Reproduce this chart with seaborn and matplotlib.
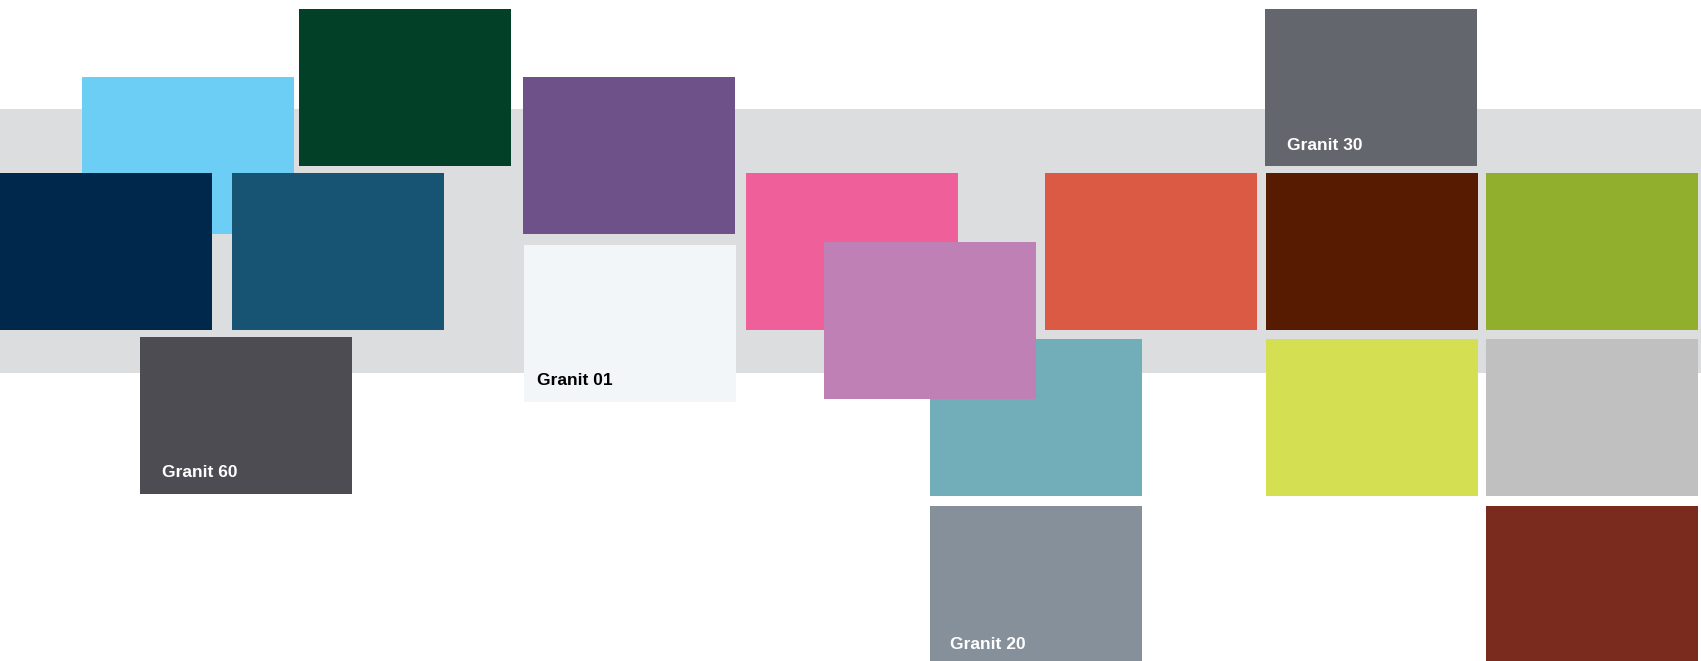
import matplotlib
matplotlib.use("Agg")
import matplotlib.pyplot as plt
import seaborn as sns

# swatch names, colours and where each card sits (pixel grid of the sheet)
swatch_names = [
    "Light blue", "Dark green", "Navy", "Petrol", "Granit 60",
    "Violet", "Granit 01", "Pink", "Turquoise", "Mauve",
    "Coral", "Granit 20", "Granit 30", "Brown", "Green",
    "Lime", "Light grey", "Rust",
]
swatch_colors = [
    "#6ccef5", "#024128", "#00274c", "#175474", "#4d4c53",
    "#6f518a", "#f2f6f9", "#ef5f99", "#72aeba", "#be80b5",
    "#db5a44", "#86909b", "#63666c", "#561b00", "#91ae2c",
    "#d4df51", "#bfc0bf", "#7a2b1d",
]
swatch_left = [82, 299, 0, 232, 140, 523, 524, 746, 930, 824,
               1045, 930, 1265, 1266, 1486, 1266, 1486, 1486]
swatch_top = [77, 9, 173, 173, 337, 77, 245, 173, 339, 242,
              173, 506, 9, 173, 173, 339, 339, 506]

# labels printed on the granite cards
label_text = ["Granit 60", "Granit 01", "Granit 30", "Granit 20"]
label_x = [162, 537, 1287, 950]
label_y = [477, 385, 150, 649]
label_color = ["white", "black", "white", "white"]

band_top, band_bottom = 109, 373
card_w, card_h = 212, 157

sns.set_theme(style="white")
plt.rcParams["font.family"] = ["Liberation Sans", "DejaVu Sans"]

fig = plt.figure(figsize=(17.01, 6.61), dpi=100)
ax = fig.add_axes([0, 0, 1, 1])
ax.set_xlim(0, 1701)
ax.set_ylim(661, 0)
ax.axis("off")

# grey band behind the cards
ax.bar(0, band_bottom - band_top, width=1701, bottom=band_top,
       align="edge", color="#dcdddf", linewidth=0)

ax.bar(swatch_left, card_h, width=card_w, bottom=swatch_top,
       align="edge", color=swatch_colors, linewidth=0)

for txt, x, y, c in zip(label_text, label_x, label_y, label_color):
    ax.text(x, y, txt, color=c, fontsize=12.5, fontweight="bold",
            ha="left", va="baseline")

fig.savefig("out.png", dpi=100, facecolor="white")
